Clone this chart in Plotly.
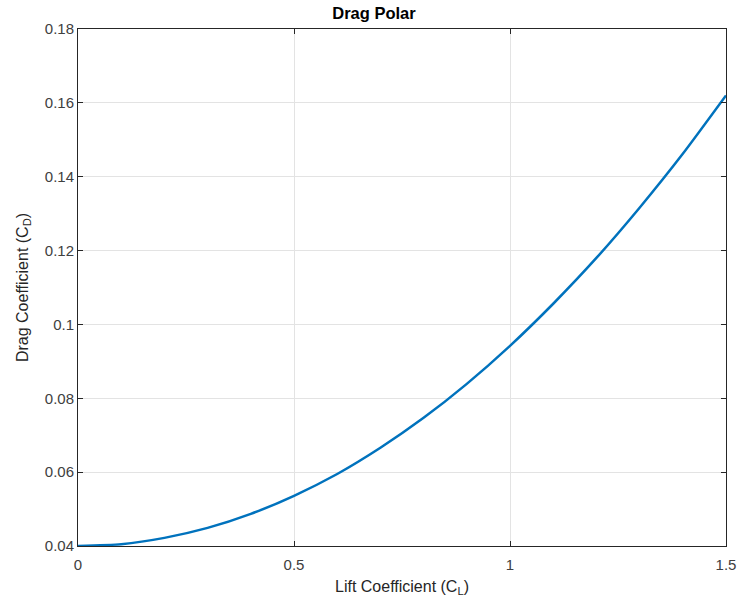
import plotly.graph_objects as go

# Lift coefficient samples and drag coefficient values
cl = [0.0, 0.1, 0.2, 0.3, 0.4, 0.5, 0.6, 0.7, 0.8, 0.9, 1.0, 1.1, 1.2, 1.3, 1.4, 1.5]
cd = [0.0400, 0.0405, 0.0422, 0.0449, 0.0487, 0.0536, 0.0595, 0.0666, 0.0747, 0.0839,
      0.0942, 0.1056, 0.1180, 0.1316, 0.1462, 0.1620]

x_ticks = [0, 0.5, 1, 1.5]
x_tick_text = ["0", "0.5", "1", "1.5"]
y_ticks = [0.04, 0.06, 0.08, 0.10, 0.12, 0.14, 0.16, 0.18]
y_tick_text = ["0.04", "0.06", "0.08", "0.1", "0.12", "0.14", "0.16", "0.18"]

font_family = "Liberation Sans, Arial, Helvetica, sans-serif"

fig = go.Figure()
fig.add_trace(go.Scatter(
    x=cl, y=cd, mode="lines",
    line=dict(color="#0072BD", width=2.5, shape="spline", smoothing=0.6),
    hoverinfo="skip", showlegend=False,
))

axis_common = dict(
    showline=True, linecolor="#262626", linewidth=1, mirror="ticks",
    ticks="inside", ticklen=5, tickcolor="#262626", tickwidth=1,
    showgrid=True, gridcolor="#e3e3e3", gridwidth=1,
    zeroline=False,
    tickfont=dict(family=font_family, size=15, color="#404040"),
)

fig.update_layout(
    width=748, height=604,
    margin=dict(l=78, r=13, t=29, b=57),
    paper_bgcolor="white", plot_bgcolor="white",
    font=dict(family=font_family, color="#262626"),
    title=dict(text="<b>Drag Polar</b>", x=0.5, xanchor="center",
               y=1 - 13 / 604, yanchor="middle",
               font=dict(family=font_family, size=16.5, color="#000000")),
    xaxis=dict(range=[0, 1.5], tickvals=x_ticks, ticktext=x_tick_text,
               ticklabelstandoff=5,
               title=dict(text="Lift Coefficient (C<sub>L</sub>)", standoff=8,
                          font=dict(family=font_family, size=16, color="#262626")),
               **axis_common),
    yaxis=dict(range=[0.04, 0.18], tickvals=y_ticks, ticktext=y_tick_text,
               title=dict(text="Drag Coefficient (C<sub>D</sub>)", standoff=12,
                          font=dict(family=font_family, size=16, color="#262626")),
               **axis_common),
)

fig.write_html("out.html")
